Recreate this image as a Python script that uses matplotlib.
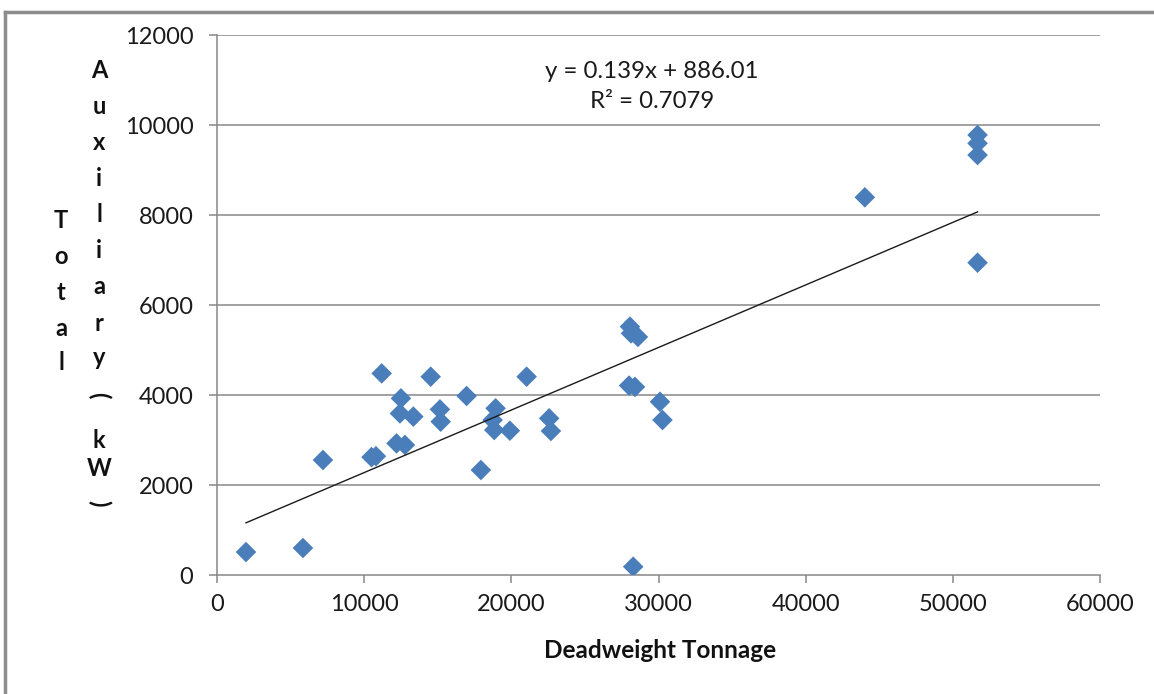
import numpy as np
import matplotlib
matplotlib.use('Agg')
import matplotlib.pyplot as plt
from matplotlib.lines import Line2D

plt.rcParams['font.family'] = ['Lato', 'DejaVu Sans']

# deadweight tonnage vs total auxiliary power (kW)
dwt = [1970, 5840, 7200, 10500, 10800, 11190, 12500, 12430, 13340, 12200,
       12770, 14520, 16960, 15150, 15200, 17930, 18930, 18730, 18840, 19900,
       21040, 22570, 22690, 28060, 28130, 28600, 28000, 28400, 30100, 30270,
       28280, 51680, 51680, 51680, 44020, 51680]
aux_kw = [510, 600, 2555, 2620, 2640, 4480, 3925, 3590, 3520, 2925,
          2890, 4407, 3978, 3680, 3407, 2333, 3704, 3444, 3222, 3207,
          4407, 3481, 3200, 5520, 5370, 5290, 4210, 4180, 3850, 3444,
          184, 9778, 9593, 9333, 8393, 6940]

slope = 0.139
intercept = 886.01
r_squared = 0.7079

x_ticks = np.arange(0, 60001, 10000)
y_ticks = np.arange(0, 12001, 2000)

W, H = 1154, 694
fig = plt.figure(figsize=(W / 100, H / 100), dpi=100)
ax = fig.add_axes([217 / W, 1 - 575 / H, (1100 - 217) / W, (575 - 35) / H])

grid_col = '#878787'
for yv in y_ticks[1:]:
    ax.axhline(yv, color=grid_col, lw=1.1, zorder=1)

ax.scatter(dwt, aux_kw, marker='D', s=110, color='#4A7EBB', edgecolors='none', zorder=3)

# linear trendline
xl = np.array([min(dwt), max(dwt)])
ax.plot(xl, slope * xl + intercept, color='#1a1a1a', lw=1.0, zorder=4)

ax.set_xlim(0, 60000)
ax.set_ylim(0, 12000)
ax.set_xticks(x_ticks)
ax.set_yticks(y_ticks)
ax.set_xticklabels([str(v) for v in x_ticks])
ax.set_yticklabels([str(v) for v in y_ticks])
for s in ['top', 'right']:
    ax.spines[s].set_visible(False)
for s in ['left', 'bottom']:
    ax.spines[s].set_color(grid_col)
    ax.spines[s].set_linewidth(1.1)
ax.tick_params(axis='both', direction='out', length=6, width=1.1, color=grid_col,
               labelsize=17, labelcolor='#1a1a1a')
ax.tick_params(axis='y', pad=11)
ax.tick_params(axis='x', pad=8)

tx = (652 - 217) / (1100 - 217)
ax.text(tx, (575 - 72) / 540, 'y = 0.139x + 886.01', transform=ax.transAxes, ha='center',
        va='center', fontsize=17.3, color='#1a1a1a')
ax.text(tx, (575 - 101) / 540, 'R² = {}'.format(r_squared), transform=ax.transAxes,
        ha='center', va='center', fontsize=17.3, color='#1a1a1a')

fig.text(660 / W, 1 - 651 / H, 'Deadweight Tonnage', ha='center', va='center',
         fontsize=17.5, fontweight='bold', color='#111111')

# stacked vertical y label, like Excel
col1 = 'Total'
col2 = 'Auxiliary(kW)'
y1_pos = [220, 257, 292, 328, 363]
y2_pos = [70, 107, 143, 178, 215, 250, 287, 323, 358, 395, 440, 468, 503, 522]
for ch, yp in zip(col1, y1_pos):
    fig.text(61 / W, 1 - yp / H, ch, ha='center', va='center', fontsize=17,
             fontweight='bold', color='#111111')
for ch, yp in zip(col2, y2_pos):
    rot = -90 if ch in '()' else 0
    fig.text(99 / W, 1 - yp / H, ch, ha='center', va='center', fontsize=17,
             fontweight='bold', rotation=rot, color='#111111')

# outer chart border (partly cut off in the original)
frame = '#8c8c8c'
fig.add_artist(Line2D([5 / W, 5 / W], [0, 1 - 12 / H], color=frame, lw=2.5))
fig.add_artist(Line2D([5 / W, 1], [1 - 12 / H, 1 - 12 / H], color=frame, lw=2.5))

plt.savefig('out.png', dpi=100)
